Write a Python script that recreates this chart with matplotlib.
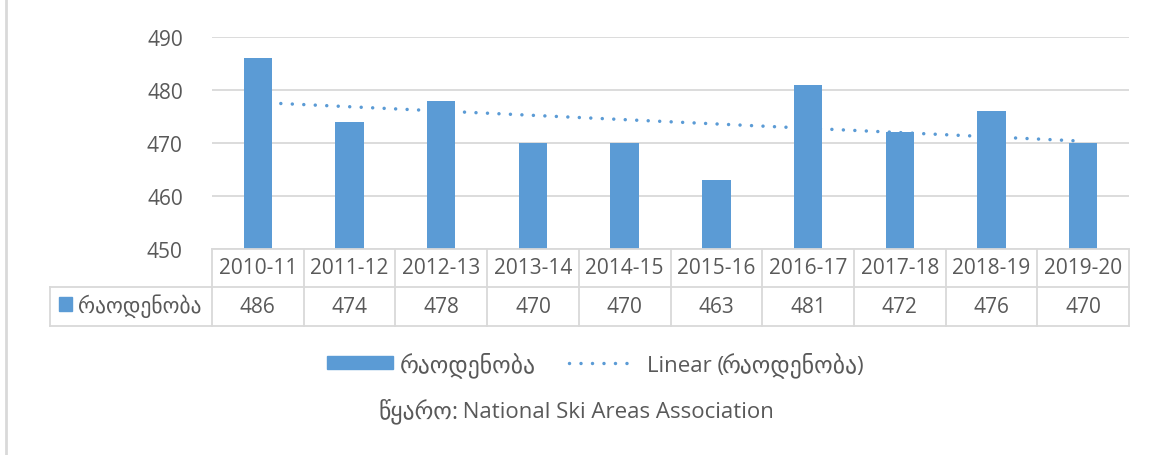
import matplotlib.pyplot as plt
import matplotlib.patches as mpatches
from matplotlib.lines import Line2D
import numpy as np

plt.rcParams['font.family'] = ['Open Sans', 'DejaVu Sans']

# data
seasons = ['2010-11', '2011-12', '2012-13', '2013-14', '2014-15',
           '2015-16', '2016-17', '2017-18', '2018-19', '2019-20']
counts = [486, 474, 478, 470, 470, 463, 481, 472, 476, 470]
series_name = 'რაოდენობა'
source_label = 'წყარო:'
source_name = ' National Ski Areas Association'
y_ticks = [450, 460, 470, 480, 490]

W, H = 1150, 456
bar_color = '#5b9bd5'
grid_color = '#d9d9d9'
text_color = '#595959'
fs = 15
fs_leg = 16
fs_geo = 17  # Georgian glyphs in DejaVu are narrow, so draw them a bit bigger
dots = (0, (0.01, 3.3))

fig = plt.figure(figsize=(W / 100, H / 100), dpi=100)
renderer = fig.canvas.get_renderer()


def fx(px):
    return px / W


def fy(py):
    return 1 - py / H


def rich_text(x_px, y_px, pieces, ha='left', gap=-2):
    # pieces of (text, size) placed one after another on a common baseline
    texts = [fig.text(0, fy(y_px), t, fontsize=s, color=text_color,
                      ha='left', va='baseline') for t, s in pieces]
    widths = [t.get_window_extent(renderer).width + gap for t in texts]
    start = x_px - sum(widths) / 2 if ha == 'center' else x_px
    for t, w in zip(texts, widths):
        t.set_x(fx(start))
        start += w


# plot area in pixel coords
x0, x1 = 212, 1129
y_top, y_bot = 38, 250
ax = fig.add_axes([x0 / W, 1 - y_bot / H, (x1 - x0) / W, (y_bot - y_top) / H])

x = np.arange(len(seasons))
ax.bar(x, counts, width=0.31, color=bar_color, zorder=2)

# linear trend line (as in Excel)
z = np.polyfit(x, counts, 1)
ax.plot(x, np.polyval(z, x), color=bar_color, linestyle=dots,
        linewidth=2.5, dash_capstyle='round', zorder=3)

ax.set_xlim(-0.5, len(seasons) - 0.5)
ax.set_ylim(450, 490)
ax.set_yticks(y_ticks)
ax.set_yticklabels([str(v) for v in y_ticks], fontsize=fs, color=text_color)
ax.tick_params(axis='y', length=0, pad=21)
ax.set_xticks([])
ax.grid(axis='y', color=grid_color, linewidth=1.3, zorder=0)
for s in ax.spines.values():
    s.set_visible(False)

# data table
row1_top, row1_bot, row2_bot = 250, 288, 327
label_left = 50
cell_w = (x1 - x0) / len(seasons)
lw = 1.3


def hline(xa, xb, yy):
    fig.add_artist(Line2D([fx(xa), fx(xb)], [fy(yy), fy(yy)], color=grid_color, lw=lw))


def vline(xx, ya, yb):
    fig.add_artist(Line2D([fx(xx), fx(xx)], [fy(ya), fy(yb)], color=grid_color, lw=lw))


hline(x0, x1, row1_top)
hline(label_left, x1, row1_bot)
hline(label_left, x1, row2_bot)
vline(label_left, row1_bot, row2_bot)
for i in range(len(seasons) + 1):
    vline(x0 + i * cell_w, row1_top, row2_bot)

for i, (s, c) in enumerate(zip(seasons, counts)):
    cx = x0 + (i + 0.5) * cell_w
    fig.text(fx(cx), fy((row1_top + row1_bot) / 2), s, ha='center', va='center',
             fontsize=fs, color=text_color)
    fig.text(fx(cx), fy((row1_bot + row2_bot) / 2), str(c), ha='center', va='center',
             fontsize=fs, color=text_color)

# legend key in table
fig.add_artist(mpatches.Rectangle((fx(59), fy(312)), fx(13), 14 / H,
                                  color=bar_color))
rich_text(78, 313, [(series_name, 15.5)])

# legend below the table
fig.add_artist(mpatches.Rectangle((fx(327), fy(370)), fx(66), 13 / H,
                                  color=bar_color))
rich_text(400, 372, [(series_name, fs_geo)])
fig.add_artist(Line2D([fx(569), fx(635)], [fy(363.5), fy(363.5)], color=bar_color,
                      linestyle=dots, linewidth=2.5, dash_capstyle='round'))
rich_text(647, 372, [('Linear (', fs_leg), (series_name, fs_geo), (')', fs_leg)])

# source
rich_text(575, 418, [(source_label, fs_geo), (source_name, fs_leg)], ha='center')

# chart area left border
fig.add_artist(Line2D([fx(5.5), fx(5.5)], [0, 1], color=grid_color, lw=2))

fig.savefig('out.png', dpi=100, facecolor='white')
